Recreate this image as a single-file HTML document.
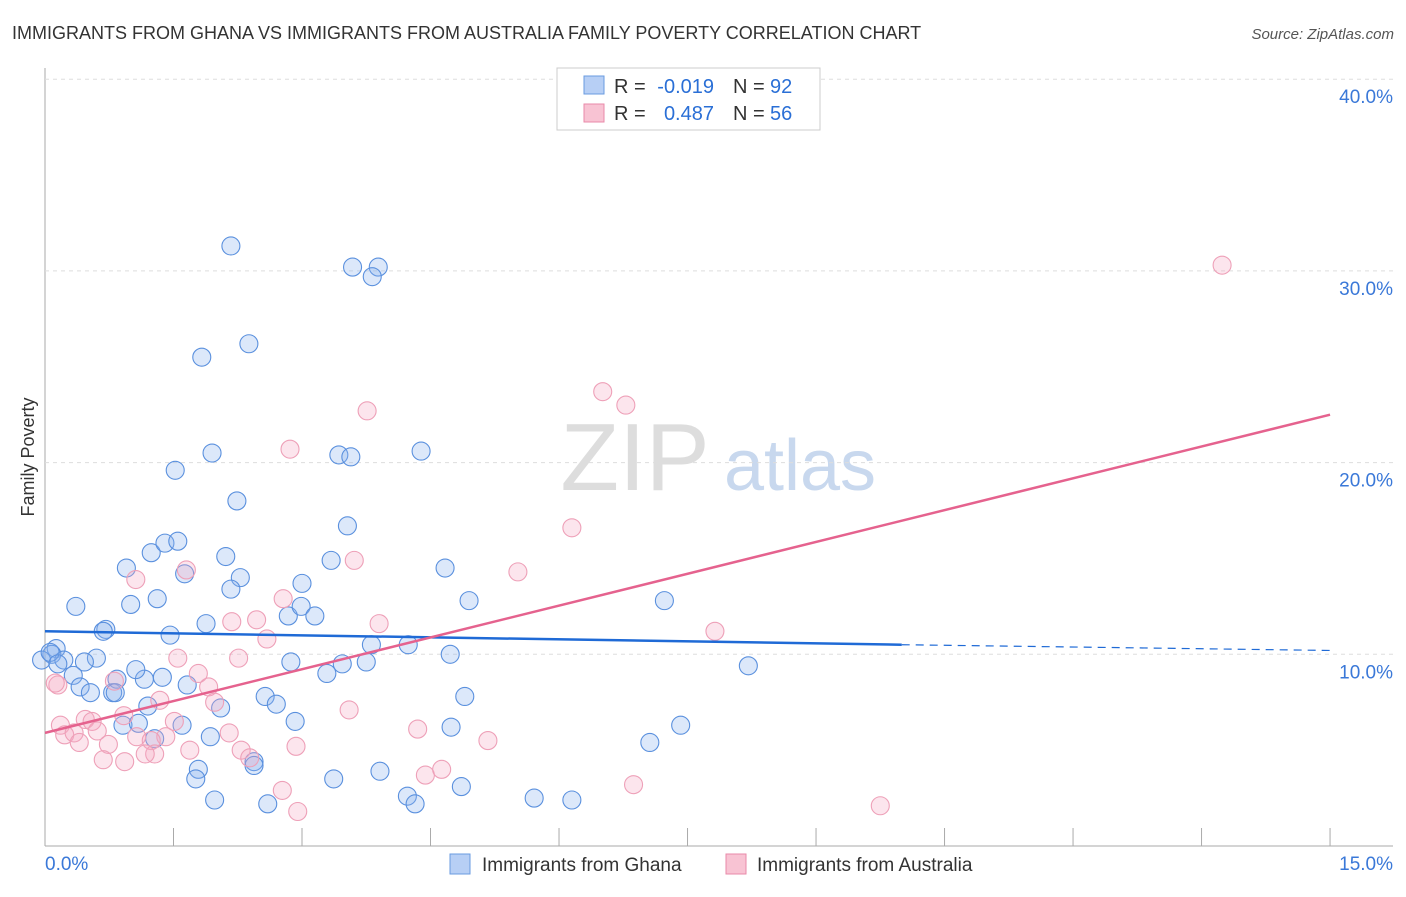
<!DOCTYPE html>
<html><head><meta charset="utf-8"><style>
body{margin:0;background:#fff;font-family:"Liberation Sans",sans-serif}
svg text{font-family:"Liberation Sans",sans-serif}
</style></head><body>
<svg id="c" width="1406" height="892">
<text x="12" y="39" font-size="18" fill="#333">IMMIGRANTS FROM GHANA VS IMMIGRANTS FROM AUSTRALIA FAMILY POVERTY CORRELATION CHART</text>
<text x="1394" y="39" font-size="15" fill="#555" font-style="italic" text-anchor="end">Source: ZipAtlas.com</text>
<text x="34" y="457" font-size="18" fill="#333" text-anchor="middle" transform="rotate(-90 34 457)">Family Poverty</text>
<g><text x="635" y="490" font-size="96" fill="#ddd" font-family="Liberation Serif" text-anchor="middle">ZIP</text><text x="800" y="490" font-size="72" fill="#c8d8ee" text-anchor="middle">atlas</text></g>
<g id="grid"></g><g id="pts"></g><g id="lines"></g>
<g>
<rect x="557" y="68" width="263" height="62" fill="#fff" stroke="#ccc"/>
<rect x="584" y="76" width="20" height="18" fill="#b7cff5" stroke="#6a9be0"/>
<rect x="584" y="104" width="20" height="18" fill="#f8c3d3" stroke="#e98aa8"/>
<text x="614" y="93" font-size="20" fill="#333">R =</text>
<text x="714" y="93" font-size="20" fill="#2a6fd6" text-anchor="end">-0.019</text>
<text x="733" y="93" font-size="20" fill="#333">N =</text>
<text x="770" y="93" font-size="20" fill="#2a6fd6">92</text>
<text x="614" y="120" font-size="20" fill="#333">R =</text>
<text x="714" y="120" font-size="20" fill="#2a6fd6" text-anchor="end">0.487</text>
<text x="733" y="120" font-size="20" fill="#333">N =</text>
<text x="770" y="120" font-size="20" fill="#2a6fd6">56</text>
</g>
<g>
<rect x="450" y="854" width="20" height="20" fill="#b7cff5" stroke="#6a9be0"/>
<text x="482" y="871" font-size="19" fill="#333">Immigrants from Ghana</text>
<rect x="726" y="854" width="20" height="20" fill="#f8c3d3" stroke="#e98aa8"/>
<text x="757" y="871" font-size="19" fill="#333">Immigrants from Australia</text>
</g>
</svg>
<script>
const xTickVals=[0,1.5,3,4.5,6,7.5,9,10.5,12,13.5,15];
const yTickVals=[10,20,30,40];
const yTickLabels=["10.0%","20.0%","30.0%","40.0%"];
const blueX=[2.17,3.59,3.89,3.82,1.83,2.38,1.95,1.52,3.43,3.57,4.39,2.24,3.53,0.95,1.24,1.40,1.55,1.63,2.11,2.28,3.34,3.00,4.67,0.36,1.00,1.31,2.17,2.84,2.99,3.15,4.95,7.23,0.71,1.46,1.88,0.68,3.81,4.24,0.13,0.08,0.22,0.60,0.46,0.33,0.41,0.53,0.79,0.84,1.16,1.37,1.66,2.87,3.47,3.75,4.73,3.29,8.21,2.57,2.70,4.90,2.05,1.20,0.91,1.09,1.60,2.92,1.93,1.28,7.42,4.74,7.06,1.79,2.44,1.76,2.44,3.37,3.91,4.86,4.23,4.32,1.98,2.60,5.71,6.15,-0.04,0.06,0.15,0.82,1.06];
const blueY=[31.3,30.2,30.2,29.7,25.5,26.2,20.5,19.6,20.4,20.3,20.6,18.0,16.7,14.5,15.3,15.8,15.9,14.2,15.1,14.0,14.9,13.7,14.5,12.5,12.6,12.9,13.4,12.0,12.5,12.0,12.8,12.8,11.3,11.0,11.6,11.2,10.5,10.5,10.3,10.0,9.7,9.8,9.6,8.9,8.3,8.0,8.0,8.7,8.7,8.8,8.4,9.6,9.5,9.6,10.0,9.0,9.4,7.8,7.4,7.8,7.2,7.3,6.3,6.4,6.3,6.5,5.7,5.6,6.3,6.2,5.4,4.0,4.4,3.5,4.2,3.5,3.9,3.1,2.6,2.2,2.4,2.2,2.5,2.4,9.7,10.1,9.5,8.0,9.2];
const pinkX=[13.74,6.51,6.78,3.76,2.86,6.15,5.52,3.61,1.06,1.65,2.78,2.47,3.90,2.18,2.59,1.55,1.79,2.26,0.81,1.91,0.15,0.12,1.34,1.98,7.82,3.55,0.92,0.47,0.55,0.18,0.23,0.34,0.61,1.51,1.07,1.41,0.74,2.15,1.24,0.40,1.69,2.29,2.93,4.35,5.17,2.39,1.28,1.17,0.68,0.93,4.44,4.63,2.77,2.95,6.87,9.75];
const pinkY=[30.3,23.7,23.0,22.7,20.7,16.6,14.3,14.9,13.9,14.4,12.9,11.8,11.6,11.7,10.8,9.8,9.0,9.8,8.6,8.3,8.4,8.5,7.6,7.5,11.2,7.1,6.8,6.6,6.5,6.3,5.8,5.9,6.0,6.5,5.7,5.7,5.3,5.9,5.5,5.4,5.0,5.0,5.2,6.1,5.5,4.6,4.8,4.8,4.5,4.4,3.7,4.0,2.9,1.8,3.2,2.1];
const blueLine=[[0,11.2],[10,10.5],[15,10.2]];
const pinkLine=[[0,5.9],[15,22.5]];
const X=v=>45+v*85.67, Y=v=>846-v*19.17;
const NS="http://www.w3.org/2000/svg";
function mk(t,a,p){const e=document.createElementNS(NS,t);for(const k in a)e.setAttribute(k,a[k]);p.appendChild(e);return e;}
const g=document.getElementById('grid');
const ax=mk('line',{x1:45,y1:68,x2:45,y2:846,stroke:'#aaa'},g);


const bx=mk('line',{x1:45,y1:846,x2:1393,y2:846,stroke:'#aaa'},g);


yTickVals.forEach((v,i)=>{
 const l=mk('line',{x1:45,x2:1393,y1:Y(v),y2:Y(v),stroke:'#ddd','stroke-dasharray':'4,4'},g);
 
 
 const t=mk('text',{x:1393,y:Y(v)+24,'font-size':19,fill:'#3a78d8','text-anchor':'end'},g);t.textContent=yTickLabels[i];
 
 
});
xTickVals.forEach(v=>{
 const l=mk('line',{x1:X(v),x2:X(v),y1:828,y2:846,stroke:'#aaa'},g);
 
 
});
const t0=mk('text',{x:45,y:870,'font-size':19,fill:'#3a78d8'},g);t0.textContent="0.0%";


const t1=mk('text',{x:1393,y:870,'font-size':19,fill:'#3a78d8','text-anchor':'end'},g);t1.textContent="15.0%";


const p=document.getElementById('pts');
blueX.forEach((v,i)=>{
 const c=mk('circle',{cx:X(v),cy:Y(blueY[i]),r:9,fill:'rgba(140,180,240,0.3)',stroke:'#5a90de','stroke-width':1.1},p);
 
 
});
pinkX.forEach((v,i)=>{
 const c=mk('circle',{cx:X(v),cy:Y(pinkY[i]),r:9,fill:'rgba(245,170,195,0.3)',stroke:'#eea0b8','stroke-width':1.1},p);
 
 
});
const L=document.getElementById('lines');
const b1=mk('line',{x1:X(blueLine[0][0]),y1:Y(blueLine[0][1]),x2:X(blueLine[1][0]),y2:Y(blueLine[1][1]),stroke:'#1f6ad6','stroke-width':2.5},L);


const b2=mk('line',{x1:X(blueLine[1][0]),y1:Y(blueLine[1][1]),x2:X(blueLine[2][0]),y2:Y(blueLine[2][1]),stroke:'#1f6ad6','stroke-width':1.2,'stroke-dasharray':'8,6'},L);


const p1=mk('line',{x1:X(pinkLine[0][0]),y1:Y(pinkLine[0][1]),x2:X(pinkLine[1][0]),y2:Y(pinkLine[1][1]),stroke:'#e5628e','stroke-width':2.5},L);


</script>
</body></html>
